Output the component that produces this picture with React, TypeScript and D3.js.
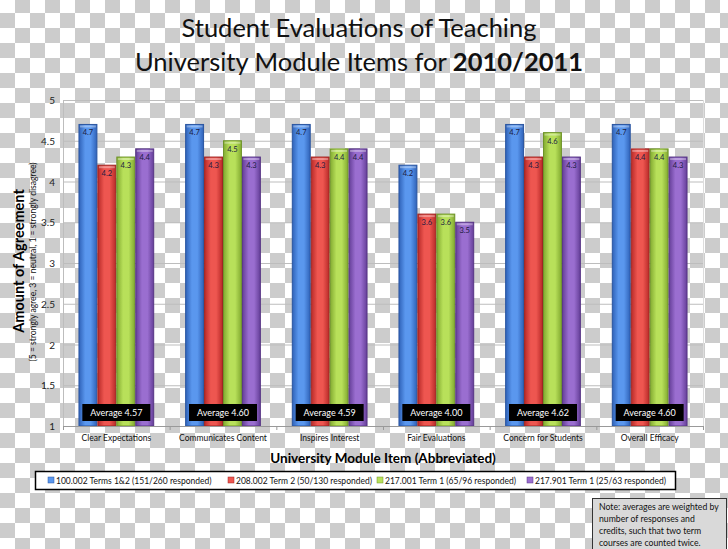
import { useEffect, useRef } from "react";
import * as d3 from "d3";

const categories = [
  "Clear Expectations",
  "Communicates Content",
  "Inspires Interest",
  "Fair Evaluations",
  "Concern for Students",
  "Overall Efficacy",
];

const seriesNames = [
  "100.002 Terms 1&2 (151/260 responded)",
  "208.002 Term 2 (50/130 responded)",
  "217.001 Term 1 (65/96 responded)",
  "217.901 Term 1 (25/63 responded)",
];

const s100 = [4.7, 4.7, 4.7, 4.2, 4.7, 4.7];
const s208 = [4.2, 4.3, 4.3, 3.6, 4.3, 4.4];
const s217 = [4.3, 4.5, 4.4, 3.6, 4.6, 4.4];
const s2179 = [4.4, 4.3, 4.4, 3.5, 4.3, 4.3];
const averages = ["4.57", "4.60", "4.59", "4.00", "4.62", "4.60"];

const yTicks = [1, 1.5, 2, 2.5, 3, 3.5, 4, 4.5, 5];

const noteLines = [
  "Note:  averages are weighted by",
  "number of responses and",
  "credits, such that two term",
  "courses are counted twice.",
];

const colors = [
  { mid: "#5a97ee", edge: "#2f62b8", stroke: "#2a55a0" },
  { mid: "#ee5650", edge: "#b82a28", stroke: "#a02522" },
  { mid: "#b8e05a", edge: "#82aa30", stroke: "#6f942a" },
  { mid: "#9a6ed0", edge: "#653f98", stroke: "#573585" },
];

export default function App() {
  const svgRef = useRef<SVGSVGElement | null>(null);

  useEffect(() => {
    if (!svgRef.current) return;
    const W = 728, H = 549;
    const font = "Lato, 'Open Sans', sans-serif";
    const svg = d3.select(svgRef.current);
    svg.selectAll("*").remove();
    svg.attr("width", W).attr("height", H).attr("viewBox", `0 0 ${W} ${H}`);

    const defs = svg.append("defs");
    const pat = defs.append("pattern").attr("id", "checker")
      .attr("patternUnits", "userSpaceOnUse").attr("width", 30).attr("height", 30)
      .attr("x", 0).attr("y", -2);
    pat.append("rect").attr("width", 30).attr("height", 30).attr("fill", "#ffffff");
    pat.append("rect").attr("x", 15).attr("y", 0).attr("width", 15).attr("height", 15).attr("fill", "#cccccc");
    pat.append("rect").attr("x", 0).attr("y", 15).attr("width", 15).attr("height", 15).attr("fill", "#cccccc");
    svg.append("rect").attr("width", W).attr("height", H).attr("fill", "url(#checker)");

    colors.forEach((c, i) => {
      const gr = defs.append("linearGradient").attr("id", `bar${i}`)
        .attr("x1", "0%").attr("x2", "100%").attr("y1", "0%").attr("y2", "0%");
      gr.append("stop").attr("offset", "0%").attr("stop-color", c.edge);
      gr.append("stop").attr("offset", "35%").attr("stop-color", c.mid);
      gr.append("stop").attr("offset", "65%").attr("stop-color", c.mid);
      gr.append("stop").attr("offset", "100%").attr("stop-color", c.edge);
    });

    // title
    const t = svg.append("text").attr("x", 359).attr("text-anchor", "middle")
      .attr("font-family", font).attr("font-size", 25.5).attr("fill", "#111");
    t.append("tspan").attr("x", 359).attr("y", 37).text("Student Evaluations of Teaching");
    const t2 = t.append("tspan").attr("x", 359).attr("y", 71).text("University Module Items for ");
    t2.append("tspan").attr("font-weight", 700).text("2010/2011");

    const plot = { left: 63, right: 703, top: 100, bottom: 426 };
    const x = d3.scaleBand<string>().domain(categories).range([plot.left, plot.right]).paddingInner(0.29).paddingOuter(0.145);
    const xs = d3.scaleBand<number>().domain([0, 1, 2, 3]).range([0, x.bandwidth()]);
    const y = d3.scaleLinear().domain([1, 5]).range([plot.bottom, plot.top]);

    // gridlines
    const g = svg.append("g");
    g.selectAll("line.grid").data(yTicks.slice(1)).join("line")
      .attr("x1", plot.left).attr("x2", plot.right)
      .attr("y1", (d) => y(d) + 0.5).attr("y2", (d) => y(d) + 0.5)
      .attr("stroke", "#bdbdbd").attr("stroke-width", 1);
    g.append("line").attr("x1", plot.left + 0.5).attr("x2", plot.left + 0.5)
      .attr("y1", plot.top).attr("y2", plot.bottom).attr("stroke", "#bdbdbd");
    g.append("line").attr("x1", plot.right + 0.5).attr("x2", plot.right + 0.5)
      .attr("y1", plot.top).attr("y2", plot.bottom).attr("stroke", "#dddddd");

    // y tick labels
    svg.append("g").selectAll("text").data(yTicks).join("text")
      .attr("x", 55).attr("y", (d) => y(d) + 4).attr("text-anchor", "end")
      .attr("font-family", font).attr("font-size", 10).attr("fill", "#222")
      .text((d) => String(d));

    // bars
    const series = [s100, s208, s217, s2179];
    const barsG = svg.append("g");
    series.forEach((vals, si) => {
      const c = colors[si];
      vals.forEach((v, ci) => {
        const bx = (x(categories[ci]) ?? 0) + (xs(si) ?? 0);
        const bw = xs.bandwidth();
        barsG.append("rect")
          .attr("x", bx + 0.5).attr("y", y(v)).attr("width", bw - 1).attr("height", y(1) - y(v))
          .attr("fill", `url(#bar${si})`).attr("stroke", c.stroke).attr("stroke-width", 1);
        barsG.append("rect")
          .attr("x", bx + 1.5).attr("y", y(v) + 1).attr("width", bw - 3).attr("height", 2)
          .attr("fill", "#ffffff").attr("opacity", 0.35);
        barsG.append("text")
          .attr("x", bx + bw / 2).attr("y", y(v) + 11).attr("text-anchor", "middle")
          .attr("font-family", font).attr("font-size", 7.5).attr("fill", "#1a1a40")
          .text(v.toFixed(1));
      });
    });

    // x-axis line + ticks
    svg.append("line").attr("x1", plot.left).attr("x2", plot.right)
      .attr("y1", plot.bottom + 0.5).attr("y2", plot.bottom + 0.5).attr("stroke", "#999");
    const step = x.step();
    svg.append("g").selectAll("line").data(d3.range(categories.length + 1)).join("line")
      .attr("x1", (i) => plot.left + i * step + 0.5).attr("x2", (i) => plot.left + i * step + 0.5)
      .attr("y1", plot.bottom).attr("y2", plot.bottom + 4).attr("stroke", "#999");

    // average boxes
    categories.forEach((cat, ci) => {
      const cx = (x(cat) ?? 0) + x.bandwidth() / 2;
      svg.append("rect").attr("x", cx - 34).attr("y", 404).attr("width", 68).attr("height", 17)
        .attr("fill", "#000");
      svg.append("text").attr("x", cx).attr("y", 416).attr("text-anchor", "middle")
        .attr("font-family", font).attr("font-size", 9).attr("fill", "#fff")
        .text(`Average ${averages[ci]}`);
    });

    // category labels
    svg.append("g").selectAll("text").data(categories).join("text")
      .attr("x", (d) => (x(d) ?? 0) + x.bandwidth() / 2).attr("y", 441).attr("text-anchor", "middle")
      .attr("font-family", font).attr("font-size", 8.5).attr("fill", "#111")
      .text((d) => d);

    // axis titles
    svg.append("text").attr("x", 383).attr("y", 463).attr("text-anchor", "middle")
      .attr("font-family", font).attr("font-size", 13.5).attr("font-weight", 700).attr("fill", "#000")
      .text("University Module Item (Abbreviated)");
    svg.append("text").attr("transform", "translate(24,261) rotate(-90)").attr("text-anchor", "middle")
      .attr("font-family", font).attr("font-size", 14.5).attr("font-weight", 700).attr("fill", "#000")
      .text("Amount of Agreement");
    svg.append("text").attr("transform", "translate(36,262) rotate(-90)").attr("text-anchor", "middle")
      .attr("font-family", font).attr("font-size", 8.6).attr("fill", "#111")
      .text("(5 = strongly agree, 3 = neutral, 1 = strongly disagree)");

    // legend
    svg.append("rect").attr("x", 35.5).attr("y", 471.5).attr("width", 640).attr("height", 18)
      .attr("fill", "#fff").attr("stroke", "#000").attr("stroke-width", 1.5);
    const legX = [48, 228, 377, 527];
    seriesNames.forEach((name, i) => {
      svg.append("rect").attr("x", legX[i]).attr("y", 477).attr("width", 6).attr("height", 6)
        .attr("fill", colors[i].mid).attr("stroke", colors[i].stroke).attr("stroke-width", 0.5);
      svg.append("text").attr("x", legX[i] + 8).attr("y", 483.5)
        .attr("font-family", font).attr("font-size", 8.5).attr("fill", "#111").text(name);
    });

    // note
    svg.append("rect").attr("x", 592.5).attr("y", 498.5).attr("width", 134).attr("height", 52)
      .attr("fill", "#d9d9d9").attr("stroke", "#333").attr("stroke-width", 1);
    noteLines.forEach((ln, i) => {
      svg.append("text").attr("x", 599).attr("y", 510 + i * 12)
        .attr("font-family", font).attr("font-size", 8.7).attr("fill", "#111").text(ln);
    });
  }, []);

  return <svg ref={svgRef} style={{ position: "absolute", left: 0, top: 0, display: "block" }} />;
}
